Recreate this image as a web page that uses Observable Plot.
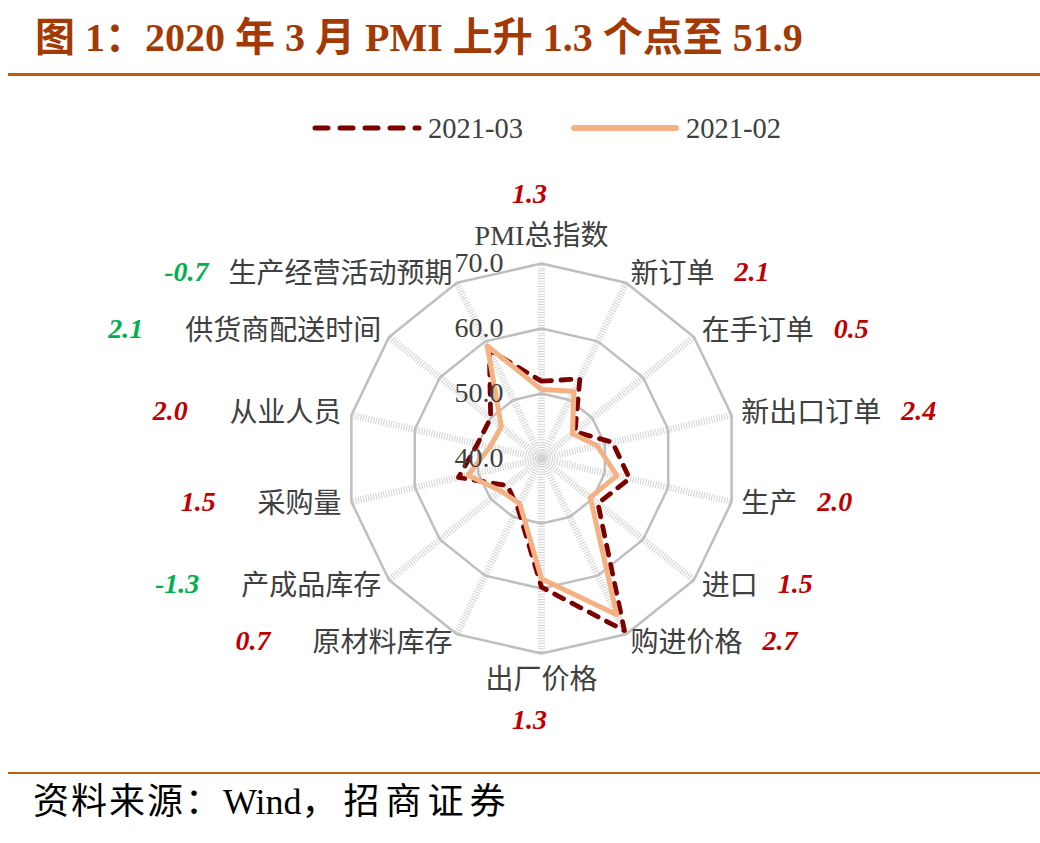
<!DOCTYPE html>
<html><head><meta charset="utf-8">
<script src="https://cdn.jsdelivr.net/npm/d3@7"></script>
<script src="https://cdn.jsdelivr.net/npm/@observablehq/plot@0.6"></script>
<style>
body{margin:0;background:#fff;width:1040px;height:843px;position:relative;overflow:hidden;font-family:"Liberation Serif","Noto Sans CJK SC",serif;}
.abs{position:absolute;white-space:nowrap;}
</style></head><body>
<div id="title" class="abs" style="left:35px;top:18px;font-size:40px;line-height:40px;font-weight:bold;color:#A33A05;">图 1：2020 年 3 月 PMI 上升 1.3 个点至 51.9</div>
<div class="abs" style="left:8px;top:73px;width:1032px;height:3px;background:#C55A11"></div>
<div id="legend" class="abs" style="left:0;top:108px;width:1040px;height:40px"></div>
<div id="chart" class="abs" style="left:0;top:150px"></div>
<div class="abs" style="left:8px;top:772px;width:1032px;height:2px;background:#C55A11"></div>
<div id="caption" class="abs" style="left:33px;top:784px;font-size:36px;line-height:36px;color:#000;"><span style="letter-spacing:2px">资料来源：</span><span>Wind</span><span style="letter-spacing:6px">，招商证券</span></div>
<script>
// ---- data ----
const categories = ["PMI总指数","新订单","在手订单","新出口订单","生产","进口","购进价格","出厂价格","原材料库存","产成品库存","采购量","从业人员","供货商配送时间","生产经营活动预期"];
const seriesNames = ["2021-03","2021-02"];
const mar2021 = [51.9, 53.6, 46.6, 51.2, 53.9, 51.1, 69.4, 59.8, 48.4, 46.7, 53.1, 50.1, 50.0, 58.5];
const feb2021 = [50.6, 51.5, 46.1, 48.8, 51.9, 49.6, 66.7, 58.5, 47.7, 48.0, 51.6, 48.1, 47.9, 59.2];
const changes = [1.3, 2.1, 0.5, 2.4, 2.0, 1.5, 2.7, 1.3, 0.7, -1.3, 1.5, 2.0, 2.1, -0.7];
const radialTicks = [40, 50, 60, 70];
const inverseIndicators = ["供货商配送时间"];

// ---- helpers ----
const FONT = "'Liberation Serif','Noto Sans CJK SC',serif";
const n = categories.length;
const R = d3.scaleLinear().domain([40, 70]).range([0, 195]);
const ang = i => i * 2 * Math.PI / n;
const pt = (i, v) => ({x: R(v) * Math.sin(ang(i)), y: -R(v) * Math.cos(ang(i))});
const ctx = document.createElement("canvas").getContext("2d");
ctx.font = `28px ${FONT}`;
const textW = s => ctx.measureText(s).width;

const rings = radialTicks.filter(t => t > 40).flatMap(t => categories.map((c, i) => ({ring: t, ...pt(i, t)})));
const spokes = categories.map((c, i) => ({...pt(i, 70)}));
const series = [
  {name: seriesNames[0], values: mar2021},
  {name: seriesNames[1], values: feb2021}
].map(s => s.values.map((v, i) => ({name: s.name, cat: categories[i], value: v, ...pt(i, v)})));

const labels = categories.map((c, i) => {
  const s = Math.sin(ang(i));
  const side = Math.abs(s) < 1e-6 ? "middle" : (s > 0 ? "start" : "end");
  const rr = side === "middle" ? 222 : 205;
  const a = ang(i);
  const x = rr * Math.sin(a), y = -rr * Math.cos(a);
  const w = textW(c);
  const ch = changes[i];
  let dxv, dyv;
  if (side === "start") { dxv = x + w + 20; dyv = y - 2; }
  else if (side === "end") { dxv = x - w - (y < -150 ? 20 : 42); dyv = y - 2; }
  else { dxv = x; dyv = y < 0 ? y - 42 : y + 40; }
  const good = inverseIndicators.includes(c) || ch < 0;
  return {label: c, side, x, y, w, change: ch.toFixed(1), cx: dxv, cy: dyv, good};
});

const chart = Plot.plot({
  width: 1040,
  height: 620,
  margin: 0,
  x: {domain: [-541, 499], range: [0, 1040], axis: null},
  y: {domain: [-308, 312], range: [0, 620], axis: null},
  style: {fontFamily: FONT, background: "transparent", overflow: "visible"},
  marks: [
    Plot.link(spokes, {x1: () => 0, y1: () => 0, x2: "x", y2: "y", stroke: "#D3D3D3", strokeWidth: 7, strokeDasharray: "1 1.6"}),
    Plot.line(rings, {x: "x", y: "y", z: "ring", curve: "linear-closed", stroke: "#BFBFBF", strokeWidth: 2.5}),
    Plot.line(series[0], {x: "x", y: "y", curve: "linear-closed", stroke: "#7B0000", strokeWidth: 4.8, strokeDasharray: "10 9.5", strokeLinecap: "round", strokeLinejoin: "round"}),
    Plot.line(series[1], {x: "x", y: "y", curve: "linear-closed", stroke: "#F4B183", strokeWidth: 5, strokeLinejoin: "round"}),
    Plot.text(radialTicks, {x: () => -38, y: d => -R(d), text: d => d.toFixed(1), textAnchor: "end", lineAnchor: "middle", fontSize: 28, fill: "#404040"}),
    ...["start", "end", "middle"].map(side =>
      Plot.text(labels.filter(d => d.side === side), {x: "x", y: "y", text: "label", textAnchor: side, lineAnchor: "middle", fontSize: 28, fill: "#404040"})),
    ...["start", "end", "middle"].flatMap(side => [true, false].map(good =>
      Plot.text(labels.filter(d => d.side === side && d.good === good), {x: "cx", y: "cy", text: "change", textAnchor: side, lineAnchor: "middle", dx: side === "middle" ? -12 : 0, fontSize: 28, fontWeight: "bold", fontStyle: "italic", fill: good ? "#00B050" : "#C00000"})))
  ]
});
document.getElementById("chart").appendChild(chart);

// legend
const lg = d3.select("#legend").append("svg").attr("width", 1040).attr("height", 40);
lg.append("line").attr("x1", 315).attr("x2", 419).attr("y1", 20).attr("y2", 20)
  .attr("stroke", "#7B0000").attr("stroke-width", 5).attr("stroke-dasharray", "13 12").attr("stroke-linecap", "round");
lg.append("text").attr("x", 428).attr("y", 20).attr("dominant-baseline", "central")
  .attr("font-family", FONT).attr("font-size", 28.5).attr("fill", "#404040").text(seriesNames[0]);
lg.append("line").attr("x1", 574).attr("x2", 676).attr("y1", 20).attr("y2", 20)
  .attr("stroke", "#F4B183").attr("stroke-width", 6).attr("stroke-linecap", "round");
lg.append("text").attr("x", 686).attr("y", 20).attr("dominant-baseline", "central")
  .attr("font-family", FONT).attr("font-size", 28.5).attr("fill", "#404040").text(seriesNames[1]);
</script>
</body></html>
